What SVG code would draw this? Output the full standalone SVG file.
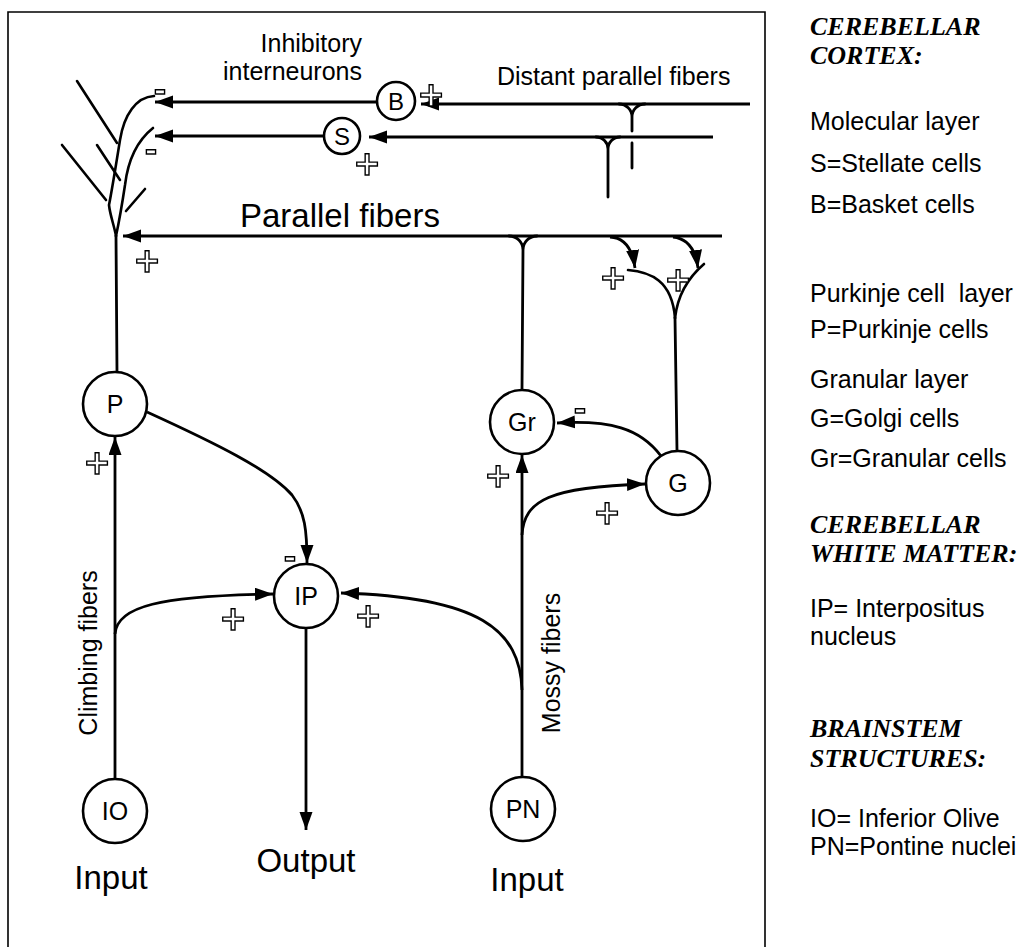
<svg xmlns="http://www.w3.org/2000/svg" width="1026" height="947" viewBox="0 0 1026 947">
  <defs>
    <marker id="ah" markerUnits="userSpaceOnUse" markerWidth="19" markerHeight="14" refX="18" refY="6.5" orient="auto">
      <path d="M0,0 L18,6.5 L0,13 Z" fill="#000"/>
    </marker>
    <!-- plain pass-through buffer so the outlined marks are drawn in greyscale -->
    <filter id="flat" x="0" y="0" width="1" height="1" filterUnits="objectBoundingBox">
      <feOffset dx="0" dy="0"/>
    </filter>
    <style>
      .frame { fill: none; stroke: #000; stroke-width: 1.6; }
      .ln { fill: none; stroke: #000; stroke-width: 2.8; stroke-linecap: round; }
      .den { fill: none; stroke: #000; stroke-width: 2.6; stroke-linecap: round; }
      .arr { fill: none; stroke: #000; stroke-width: 2.8; marker-end: url(#ah); }
      .cell { fill: #fff; stroke: #000; stroke-width: 2.6; }
      .lbl { font-family: "Liberation Sans", Arial, sans-serif; fill: #000; }
      .nd { font-family: "Liberation Sans", Arial, sans-serif; font-size: 25px; text-anchor: middle; fill: #000; }
      .plus { font-family: "DejaVu Sans", sans-serif; font-weight: bold; font-size: 33px; text-anchor: middle; fill: #fff; stroke: #000; stroke-width: 1.4; }
      .minus { font-family: "DejaVu Sans", sans-serif; font-weight: bold; font-size: 30px; text-anchor: middle; fill: #fff; stroke: #000; stroke-width: 1.4; }
      .head { font-family: "Liberation Serif", "Times New Roman", serif; font-style: italic; font-weight: bold; font-size: 26px; fill: #000; }
      .leg { font-family: "Liberation Sans", Arial, sans-serif; font-size: 25px; fill: #000; }
    </style>
  </defs>

  <rect width="1026" height="947" fill="#fff"/>
  <path class="frame" d="M8,947 V12 H765 V947"/>

  <!-- fibres and synaptic connections -->
  <g id="connectors">
    <!-- Purkinje dendritic tree -->
    <path class="den" d="M77,81 L117,143"/>
    <path class="den" d="M154,96 C136,97 124,115 120,140 C116,165 112,190 109,205 C110,215 114,225 116,236"/>
    <path class="den" d="M62,145 L106,200"/>
    <path class="den" d="M97,145 L120,180"/>
    <path class="den" d="M153,128 C138,140 128,160 125,185 C122,205 119,222 116,236"/>
    <path class="den" d="M145,189 L126,211"/>
    <path class="ln" d="M116,236 L117,372"/>

    <!-- basket and stellate axons onto the dendrites -->
    <path class="arr" d="M377,102 L155,102"/>
    <path class="arr" d="M324,136 L155,136"/>

    <!-- distant parallel fibres -->
    <path class="arr" d="M750,104 L421,104"/>
    <path class="arr" d="M713,137 L369,137"/>
    <path class="ln" d="M619,104 A13,13 0 0 1 632,117 M645,104 A13,13 0 0 0 632,117 L632,131 M632,143 L632,168"/>
    <path class="ln" d="M596,137 A12,12 0 0 1 608,149 M620,137 A12,12 0 0 0 608,149 L608,197"/>

    <!-- parallel fibres from the granule cell -->
    <path class="arr" d="M722,236 L123,236"/>
    <path class="ln" d="M509,236 A14,14 0 0 1 523,250 M537,236 A14,14 0 0 0 523,250 L522,390"/>
    <path class="arr" d="M610,237 Q631,238 635,268"/>
    <path class="arr" d="M673,237 Q694,239 698,268"/>

    <!-- Golgi cell dendrite -->
    <path class="den" d="M628,270 C650,272 672,280 675,318"/>
    <path class="den" d="M704,264 C690,276 678,292 675,318"/>
    <path class="ln" d="M675,318 L677,451"/>

    <!-- Golgi inhibition of the granule cell -->
    <path class="arr" d="M661,456 C640,428 610,420 557,423"/>

    <!-- Purkinje output to the interpositus nucleus -->
    <path class="arr" d="M147,412 C215,443 270,470 292,495 C305,512 307,530 307,563"/>

    <!-- climbing fibres -->
    <path class="arr" d="M115,778 L115,437"/>
    <path class="arr" d="M115,634 C117,606 160,596 273,594"/>

    <!-- mossy fibres -->
    <path class="arr" d="M522,777 L522,455"/>
    <path class="arr" d="M522,535 C524,500 550,487 645,484"/>
    <path class="arr" d="M522,690 C520,630 480,597 341,593"/>

    <!-- nucleus output -->
    <path class="arr" d="M306,628 L306,830"/>
  </g>

  <!-- cells -->
  <g id="node-B"><circle class="cell" cx="396" cy="101" r="19"/><text class="nd" x="396" y="110" style="font-size:24px">B</text></g>
  <g id="node-S"><circle class="cell" cx="342" cy="136" r="18"/><text class="nd" x="342" y="145" style="font-size:24px">S</text></g>
  <g id="node-P"><circle class="cell" cx="115" cy="404" r="32"/><text class="nd" x="115" y="413">P</text></g>
  <g id="node-Gr"><circle class="cell" cx="522" cy="422" r="32"/><text class="nd" x="522" y="431">Gr</text></g>
  <g id="node-G"><circle class="cell" cx="678" cy="483" r="32"/><text class="nd" x="678" y="492">G</text></g>
  <g id="node-IP"><circle class="cell" cx="306" cy="596" r="32"/><text class="nd" x="306" y="605">IP</text></g>
  <g id="node-IO"><circle class="cell" cx="115" cy="811" r="32"/><text class="nd" x="115" y="820">IO</text></g>
  <g id="node-PN"><circle class="cell" cx="523" cy="809" r="32"/><text class="nd" x="523" y="818">PN</text></g>

  <!-- excitatory / inhibitory marks -->
  <g id="signs" filter="url(#flat)">
    <text class="minus" x="160" y="101">-</text>
    <text class="minus" x="151" y="161">-</text>
    <text class="plus" x="431" y="106">+</text>
    <text class="plus" x="367" y="175">+</text>
    <text class="plus" x="147" y="272">+</text>
    <text class="plus" x="613" y="289">+</text>
    <text class="plus" x="678" y="291">+</text>
    <text class="plus" x="97" y="474">+</text>
    <text class="minus" x="290" y="568">-</text>
    <text class="plus" x="233" y="630">+</text>
    <text class="plus" x="368" y="627">+</text>
    <text class="plus" x="498" y="487">+</text>
    <text class="minus" x="580" y="420">-</text>
    <text class="plus" x="607" y="524">+</text>
  </g>

  <!-- fibre labels -->
  <g id="labels">
    <text class="lbl" x="362" y="52" text-anchor="end" font-size="25">Inhibitory</text>
    <text class="lbl" x="362" y="80" text-anchor="end" font-size="25">interneurons</text>
    <text class="lbl" x="497" y="85" font-size="25">Distant parallel fibers</text>
    <text class="lbl" x="240" y="227" font-size="33">Parallel fibers</text>
    <text class="lbl" font-size="25" text-anchor="middle" transform="translate(97,653) rotate(-90)">Climbing fibers</text>
    <text class="lbl" font-size="25" text-anchor="middle" transform="translate(560,663) rotate(-90)">Mossy fibers</text>
    <text class="lbl" x="111" y="889" font-size="33" text-anchor="middle">Input</text>
    <text class="lbl" x="306" y="872" font-size="33" text-anchor="middle">Output</text>
    <text class="lbl" x="527" y="891" font-size="33" text-anchor="middle">Input</text>
  </g>

  <!-- legend -->
  <g id="legend">
    <text class="head" x="810" y="35">CEREBELLAR</text>
    <text class="head" x="810" y="64">CORTEX:</text>
    <text class="leg" x="810" y="130">Molecular layer</text>
    <text class="leg" x="810" y="172">S=Stellate cells</text>
    <text class="leg" x="810" y="213">B=Basket cells</text>
    <text class="leg" x="810" y="302" xml:space="preserve">Purkinje cell  layer</text>
    <text class="leg" x="810" y="338">P=Purkinje cells</text>
    <text class="leg" x="810" y="388">Granular layer</text>
    <text class="leg" x="810" y="427">G=Golgi cells</text>
    <text class="leg" x="810" y="467">Gr=Granular cells</text>
    <text class="head" x="810" y="533">CEREBELLAR</text>
    <text class="head" x="810" y="562">WHITE MATTER:</text>
    <text class="leg" x="810" y="617">IP= Interpositus</text>
    <text class="leg" x="810" y="645">nucleus</text>
    <text class="head" x="810" y="737">BRAINSTEM</text>
    <text class="head" x="810" y="767">STRUCTURES:</text>
    <text class="leg" x="810" y="827">IO= Inferior Olive</text>
    <text class="leg" x="810" y="855">PN=Pontine nuclei</text>
  </g>
</svg>
